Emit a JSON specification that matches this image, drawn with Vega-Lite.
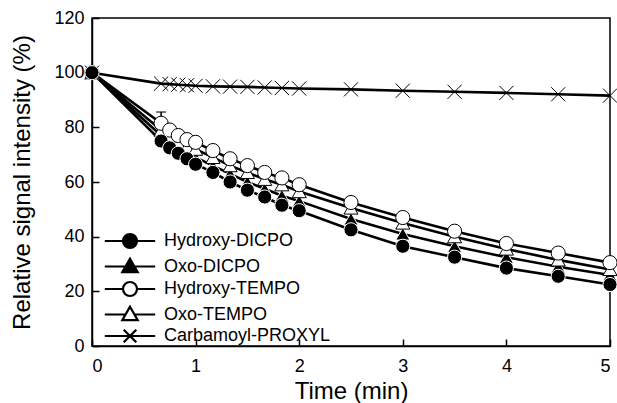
{
  "$schema": "https://vega.github.io/schema/vega-lite/v6.json",
  "autosize": {"type": "none"},
  "width": 518,
  "height": 328,
  "padding": {"left": 92, "top": 18, "right": 7, "bottom": 57},
  "background": "white",
  "config": {
    "font": "Liberation Sans",
    "view": {"stroke": "black", "strokeWidth": 1.5},
    "axis": {
      "grid": false,
      "domainColor": "black",
      "domainWidth": 1.5,
      "tickColor": "black",
      "tickWidth": 1.5,
      "tickSize": -7,
      "labelColor": "black",
      "labelFont": "Liberation Sans",
      "labelFontSize": 18,
      "titleFont": "Liberation Sans",
      "titleFontSize": 24,
      "titleFontWeight": "normal",
      "titleColor": "black"
    }
  },
  "datasets": {
    "main": [
      {"s": "Carbamoyl-PROXYL", "t": 0, "v": 100},
      {"s": "Carbamoyl-PROXYL", "t": 0.667, "v": 96},
      {"s": "Carbamoyl-PROXYL", "t": 0.75, "v": 95.8},
      {"s": "Carbamoyl-PROXYL", "t": 0.833, "v": 95.6},
      {"s": "Carbamoyl-PROXYL", "t": 0.917, "v": 95.4},
      {"s": "Carbamoyl-PROXYL", "t": 1, "v": 95.2},
      {"s": "Carbamoyl-PROXYL", "t": 1.167, "v": 95},
      {"s": "Carbamoyl-PROXYL", "t": 1.333, "v": 94.9},
      {"s": "Carbamoyl-PROXYL", "t": 1.5, "v": 94.8},
      {"s": "Carbamoyl-PROXYL", "t": 1.667, "v": 94.6},
      {"s": "Carbamoyl-PROXYL", "t": 1.833, "v": 94.4},
      {"s": "Carbamoyl-PROXYL", "t": 2, "v": 94.2},
      {"s": "Carbamoyl-PROXYL", "t": 2.5, "v": 93.9},
      {"s": "Carbamoyl-PROXYL", "t": 3, "v": 93.4},
      {"s": "Carbamoyl-PROXYL", "t": 3.5, "v": 93},
      {"s": "Carbamoyl-PROXYL", "t": 4, "v": 92.6},
      {"s": "Carbamoyl-PROXYL", "t": 4.5, "v": 92.1},
      {"s": "Carbamoyl-PROXYL", "t": 5, "v": 91.6},
      {"s": "Oxo-DICPO", "t": 0, "v": 100},
      {"s": "Oxo-DICPO", "t": 0.667, "v": 77},
      {"s": "Oxo-DICPO", "t": 0.75, "v": 74.5},
      {"s": "Oxo-DICPO", "t": 0.833, "v": 72.5},
      {"s": "Oxo-DICPO", "t": 0.917, "v": 70.5},
      {"s": "Oxo-DICPO", "t": 1, "v": 69},
      {"s": "Oxo-DICPO", "t": 1.167, "v": 66},
      {"s": "Oxo-DICPO", "t": 1.333, "v": 63},
      {"s": "Oxo-DICPO", "t": 1.5, "v": 60},
      {"s": "Oxo-DICPO", "t": 1.667, "v": 57.5},
      {"s": "Oxo-DICPO", "t": 1.833, "v": 55},
      {"s": "Oxo-DICPO", "t": 2, "v": 53},
      {"s": "Oxo-DICPO", "t": 2.5, "v": 46.5},
      {"s": "Oxo-DICPO", "t": 3, "v": 41},
      {"s": "Oxo-DICPO", "t": 3.5, "v": 36.5},
      {"s": "Oxo-DICPO", "t": 4, "v": 32.5},
      {"s": "Oxo-DICPO", "t": 4.5, "v": 29},
      {"s": "Oxo-DICPO", "t": 5, "v": 26},
      {"s": "Oxo-TEMPO", "t": 0, "v": 100},
      {"s": "Oxo-TEMPO", "t": 0.667, "v": 79},
      {"s": "Oxo-TEMPO", "t": 0.75, "v": 76.5},
      {"s": "Oxo-TEMPO", "t": 0.833, "v": 74.5},
      {"s": "Oxo-TEMPO", "t": 0.917, "v": 73},
      {"s": "Oxo-TEMPO", "t": 1, "v": 72},
      {"s": "Oxo-TEMPO", "t": 1.167, "v": 69},
      {"s": "Oxo-TEMPO", "t": 1.333, "v": 66},
      {"s": "Oxo-TEMPO", "t": 1.5, "v": 63.5},
      {"s": "Oxo-TEMPO", "t": 1.667, "v": 61},
      {"s": "Oxo-TEMPO", "t": 1.833, "v": 59},
      {"s": "Oxo-TEMPO", "t": 2, "v": 56.5},
      {"s": "Oxo-TEMPO", "t": 2.5, "v": 50.5},
      {"s": "Oxo-TEMPO", "t": 3, "v": 45},
      {"s": "Oxo-TEMPO", "t": 3.5, "v": 40},
      {"s": "Oxo-TEMPO", "t": 4, "v": 35.5},
      {"s": "Oxo-TEMPO", "t": 4.5, "v": 31.5},
      {"s": "Oxo-TEMPO", "t": 5, "v": 28},
      {"s": "Hydroxy-TEMPO", "t": 0, "v": 100},
      {"s": "Hydroxy-TEMPO", "t": 0.667, "v": 81.5},
      {"s": "Hydroxy-TEMPO", "t": 0.75, "v": 79},
      {"s": "Hydroxy-TEMPO", "t": 0.833, "v": 77},
      {"s": "Hydroxy-TEMPO", "t": 0.917, "v": 75.5},
      {"s": "Hydroxy-TEMPO", "t": 1, "v": 74.5},
      {"s": "Hydroxy-TEMPO", "t": 1.167, "v": 71.5},
      {"s": "Hydroxy-TEMPO", "t": 1.333, "v": 68.5},
      {"s": "Hydroxy-TEMPO", "t": 1.5, "v": 66},
      {"s": "Hydroxy-TEMPO", "t": 1.667, "v": 63.5},
      {"s": "Hydroxy-TEMPO", "t": 1.833, "v": 61.5},
      {"s": "Hydroxy-TEMPO", "t": 2, "v": 59},
      {"s": "Hydroxy-TEMPO", "t": 2.5, "v": 52.5},
      {"s": "Hydroxy-TEMPO", "t": 3, "v": 47},
      {"s": "Hydroxy-TEMPO", "t": 3.5, "v": 42},
      {"s": "Hydroxy-TEMPO", "t": 4, "v": 37.5},
      {"s": "Hydroxy-TEMPO", "t": 4.5, "v": 34},
      {"s": "Hydroxy-TEMPO", "t": 5, "v": 30.5},
      {"s": "Hydroxy-DICPO", "t": 0, "v": 100},
      {"s": "Hydroxy-DICPO", "t": 0.667, "v": 75},
      {"s": "Hydroxy-DICPO", "t": 0.75, "v": 72.5},
      {"s": "Hydroxy-DICPO", "t": 0.833, "v": 70.5},
      {"s": "Hydroxy-DICPO", "t": 0.917, "v": 68.5},
      {"s": "Hydroxy-DICPO", "t": 1, "v": 66.5},
      {"s": "Hydroxy-DICPO", "t": 1.167, "v": 63.5},
      {"s": "Hydroxy-DICPO", "t": 1.333, "v": 60},
      {"s": "Hydroxy-DICPO", "t": 1.5, "v": 57},
      {"s": "Hydroxy-DICPO", "t": 1.667, "v": 54.5},
      {"s": "Hydroxy-DICPO", "t": 1.833, "v": 51.5},
      {"s": "Hydroxy-DICPO", "t": 2, "v": 49.5},
      {"s": "Hydroxy-DICPO", "t": 2.5, "v": 42.5},
      {"s": "Hydroxy-DICPO", "t": 3, "v": 36.5},
      {"s": "Hydroxy-DICPO", "t": 3.5, "v": 32.5},
      {"s": "Hydroxy-DICPO", "t": 4, "v": 28.5},
      {"s": "Hydroxy-DICPO", "t": 4.5, "v": 25.5},
      {"s": "Hydroxy-DICPO", "t": 5, "v": 22.5}
    ],
    "err": [
      {"s": "Hydroxy-TEMPO", "t": 0.667, "lo": 81.5, "hi": 85.6}
    ]
  },
  "data": {"name": "main"},
  "encoding": {
    "x": {"field": "t", "type": "quantitative", "scale": {"domain": [0, 5], "nice": false},
          "axis": {"values": [0, 1, 2, 3, 4, 5], "title": "Time (min)", "labelPadding": 18, "titlePadding": 4}},
    "y": {"field": "v", "type": "quantitative", "scale": {"domain": [0, 120], "nice": false},
          "axis": {"values": [0, 20, 40, 60, 80, 100, 120], "title": "Relative signal intensity (%)", "labelPadding": 15, "titlePadding": 19}}
  },
  "layer": [
    {
      "data": {"name": "err"},
      "mark": {"type": "rule", "color": "black", "strokeWidth": 1.5},
      "encoding": {
        "y": {"field": "lo", "type": "quantitative"},
        "y2": {"field": "hi"}
      }
    },
    {
      "data": {"name": "err"},
      "mark": {"type": "tick", "color": "black", "orient": "horizontal", "size": 10, "thickness": 1.5},
      "encoding": {
        "y": {"field": "hi", "type": "quantitative"}
      }
    },
    {
      "mark": {"type": "line", "color": "black", "strokeWidth": 2.6},
      "encoding": {"detail": {"field": "s", "type": "nominal"}}
    },
    {
      "mark": {"type": "point", "filled": true, "size": 200, "opacity": 1},
      "encoding": {
        "shape": {"field": "s", "type": "nominal", "legend": null,
                  "scale": {"domain": ["Hydroxy-DICPO", "Oxo-DICPO", "Hydroxy-TEMPO", "Oxo-TEMPO", "Carbamoyl-PROXYL"],
                            "range": ["circle", "triangle-up", "circle", "triangle-up", "M-1,-1L1,1M-1,1L1,-1"]}},
        "fill": {"field": "s", "type": "nominal", "legend": null,
                 "scale": {"domain": ["Hydroxy-DICPO", "Oxo-DICPO", "Hydroxy-TEMPO", "Oxo-TEMPO", "Carbamoyl-PROXYL"],
                           "range": ["black", "black", "white", "white", "black"]}},
        "stroke": {"field": "s", "type": "nominal", "legend": null,
                   "scale": {"domain": ["Hydroxy-DICPO", "Oxo-DICPO", "Hydroxy-TEMPO", "Oxo-TEMPO", "Carbamoyl-PROXYL"],
                             "range": ["white", "white", "black", "black", "black"]}},
        "strokeWidth": {"field": "s", "type": "ordinal", "legend": null,
                        "scale": {"domain": ["Hydroxy-DICPO", "Oxo-DICPO", "Hydroxy-TEMPO", "Oxo-TEMPO", "Carbamoyl-PROXYL"],
                                  "range": [1, 1, 1.5, 1.5, 2.4]}}
      }
    },
    {
      "transform": [{"filter": "datum.v < -1"}],
      "mark": {"type": "point", "filled": true, "size": 196, "strokeWidth": 2.2},
      "encoding": {
        "shape": {"field": "s", "type": "nominal",
                  "scale": {"domain": ["Hydroxy-DICPO", "Oxo-DICPO", "Hydroxy-TEMPO", "Oxo-TEMPO", "Carbamoyl-PROXYL"],
                            "range": ["M-3.6,0L-1,0M1,0L3.6,0M-1,0A1,1,0,1,1,1,0A1,1,0,1,1,-1,0Z",
                                      "M-3.6,0L-0.64,0M0.64,0L3.6,0M0,-1.1L1.1,0.8L-1.1,0.8Z",
                                      "M-3.6,0L-1,0M1,0L3.6,0M-1,0A1,1,0,1,1,1,0A1,1,0,1,1,-1,0Z",
                                      "M-3.6,0L-0.64,0M0.64,0L3.6,0M0,-1.1L1.1,0.8L-1.1,0.8Z",
                                      "M-3.6,0L3.6,0M-0.9,-0.9L0.9,0.9M-0.9,0.9L0.9,-0.9"]},
                  "legend": {"title": null, "orient": "none", "legendX": 29, "legendY": 214, "padding": 0,
                             "symbolSize": 196, "symbolStrokeColor": "black", "symbolStrokeWidth": 2.2,
                             "labelFontSize": 18, "labelFont": "Liberation Sans", "labelColor": "black",
                             "labelOffset": 25, "rowPadding": 0.5, "symbolOpacity": 1, "labelLimit": 300}},
        "fill": {"field": "s", "type": "nominal",
                 "scale": {"domain": ["Hydroxy-DICPO", "Oxo-DICPO", "Hydroxy-TEMPO", "Oxo-TEMPO", "Carbamoyl-PROXYL"],
                           "range": ["black", "black", "white", "white", "black"]}},
        "stroke": {"field": "s", "type": "nominal",
                   "scale": {"domain": ["Hydroxy-DICPO", "Oxo-DICPO", "Hydroxy-TEMPO", "Oxo-TEMPO", "Carbamoyl-PROXYL"],
                             "range": ["black", "black", "black", "black", "black"]}}
      }
    }
  ],
  "resolve": {"scale": {"shape": "independent", "fill": "independent", "stroke": "independent", "strokeWidth": "independent"}}
}
